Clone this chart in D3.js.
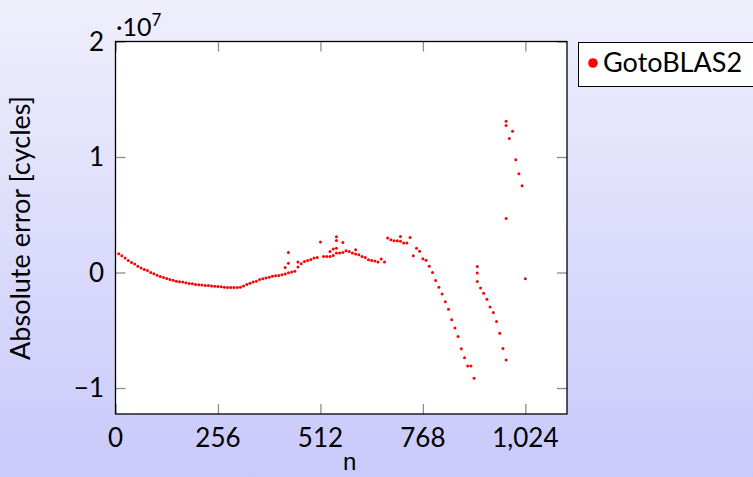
<!DOCTYPE html>
<html>
<head>
<meta charset="utf-8">
<script src="https://cdn.jsdelivr.net/npm/d3@7"></script>
<style>
  html, body { margin: 0; padding: 0; }
  svg { display: block; }
</style>
</head>
<body>
<svg id="chart" width="753" height="477"></svg>
<script>
// matrix size n
var sizes = [
  8, 16, 24, 32, 40, 48, 56, 64, 72, 80, 88, 96, 104, 112, 120, 128,
  136, 144, 152, 160, 168, 176, 184, 192, 200, 208, 216, 224, 232, 240, 248, 256,
  264, 272, 280, 288, 296, 304, 312, 320, 328, 336, 344, 352, 360, 368, 376, 384,
  392, 400, 408, 416, 424, 424, 432, 432, 432, 440, 448, 456, 456, 464, 472, 480,
  488, 496, 504, 512, 520, 528, 536, 536, 544, 544, 552, 552, 552, 552, 560, 568,
  568, 576, 584, 592, 600, 600, 608, 616, 624, 632, 640, 648, 656, 664, 672, 680,
  688, 696, 704, 712, 712, 720, 728, 736, 744, 752, 760, 768, 776, 784, 792, 800,
  808, 816, 824, 832, 840, 848, 856, 864, 872, 880, 888, 896, 904, 904, 904, 912,
  920, 928, 936, 944, 952, 960, 968, 976, 976, 976, 976, 984, 992, 1000, 1008, 1016,
  1024
];

// absolute error, in units of 10^7 cycles
var errors = [
  0.162, 0.145, 0.125, 0.104, 0.087, 0.073, 0.055, 0.038, 0.026, 0.017, 0.0, -0.011, -0.023, -0.035, -0.043, -0.052,
  -0.061, -0.066, -0.075, -0.081, -0.083, -0.089, -0.095, -0.098, -0.104, -0.107, -0.109, -0.113, -0.113, -0.116, -0.119, -0.121,
  -0.124, -0.127, -0.13, -0.13, -0.13, -0.13, -0.127, -0.116, -0.104, -0.093, -0.083, -0.075, -0.061, -0.055, -0.047, -0.04,
  -0.033, -0.027, -0.025, -0.02, -0.012, 0.043, -0.003, 0.081, 0.173, 0.004, 0.01, 0.047, 0.09, 0.075, 0.095, 0.104,
  0.113, 0.125, 0.13, 0.264, 0.139, 0.139, 0.139, 0.182, 0.147, 0.203, 0.168, 0.21, 0.278, 0.31, 0.168, 0.173,
  0.26, 0.188, 0.182, 0.168, 0.197, 0.16, 0.153, 0.139, 0.13, 0.11, 0.104, 0.1, 0.09, 0.116, 0.09, 0.298,
  0.284, 0.275, 0.275, 0.27, 0.312, 0.255, 0.255, 0.304, 0.145, 0.21, 0.185, 0.12, 0.107, 0.055, 0.0, -0.07,
  -0.127, -0.185, -0.254, -0.318, -0.41, -0.48, -0.555, -0.66, -0.737, -0.81, -0.81, -0.916, 0.052, -0.005, -0.078, -0.135,
  -0.179, -0.231, -0.298, -0.347, -0.425, -0.526, -0.658, -0.757, 0.468, 1.272, 1.31, 1.16, 1.223, 0.977, 0.856, 0.752,
  -0.055
];

var xTicks = [0, 256, 512, 768, 1024];
var yTicks = [-1, 0, 1, 2];
var seriesName = 'GotoBLAS2';

var width = 753, height = 477;
var plot = {left: 115.5, right: 567, top: 41.5, bottom: 414};
var tickLen = 10;
var labelFont = 'Lato, "Open Sans", sans-serif';

var svg = d3.select('#chart');

// page background
var grad = svg.append('defs').append('linearGradient')
  .attr('id', 'bg')
  .attr('x1', 0).attr('y1', 0).attr('x2', 0).attr('y2', 1);
grad.append('stop').attr('offset', '0%').attr('stop-color', '#efeffc');
grad.append('stop').attr('offset', '100%').attr('stop-color', '#c9c9fb');
svg.append('rect')
  .attr('width', width).attr('height', height)
  .attr('fill', 'url(#bg)');

var x = d3.scaleLinear().domain([0, 1128]).range([plot.left, plot.right]);
var y = d3.scaleLinear().domain([-1.225, 2]).range([plot.bottom, plot.top]);

svg.append('rect')
  .attr('x', plot.left).attr('y', plot.top)
  .attr('width', plot.right - plot.left)
  .attr('height', plot.bottom - plot.top)
  .attr('fill', '#fff');

// inward ticks on all four sides
function styleAxis(g) {
  g.select('.domain').remove();
  g.selectAll('.tick line').attr('stroke', '#8c8c8c').attr('stroke-width', 1.3);
  g.selectAll('text').remove();
}

svg.append('g')
  .attr('transform', 'translate(0,' + plot.bottom + ')')
  .call(d3.axisBottom(x).tickValues(xTicks).tickSizeInner(-tickLen).tickSizeOuter(0))
  .call(styleAxis);
svg.append('g')
  .attr('transform', 'translate(0,' + plot.top + ')')
  .call(d3.axisTop(x).tickValues(xTicks).tickSizeInner(-tickLen).tickSizeOuter(0))
  .call(styleAxis);
svg.append('g')
  .attr('transform', 'translate(' + plot.left + ',0)')
  .call(d3.axisLeft(y).tickValues(yTicks).tickSizeInner(-tickLen).tickSizeOuter(0))
  .call(styleAxis);
svg.append('g')
  .attr('transform', 'translate(' + plot.right + ',0)')
  .call(d3.axisRight(y).tickValues(yTicks).tickSizeInner(-tickLen).tickSizeOuter(0))
  .call(styleAxis);

// tick labels
var fmtX = d3.format(',');
svg.append('g').selectAll('text')
  .data(xTicks)
  .join('text')
  .attr('x', function(d) { return x(d); })
  .attr('y', 447)
  .attr('text-anchor', 'middle')
  .attr('font-family', labelFont)
  .attr('font-size', 26)
  .attr('fill', '#000')
  .text(fmtX);

svg.append('g').selectAll('text')
  .data(yTicks)
  .join('text')
  .attr('x', 104)
  .attr('y', function(d) { return y(d); })
  .attr('dy', '0.36em')
  .attr('text-anchor', 'end')
  .attr('font-family', labelFont)
  .attr('font-size', 26)
  .attr('fill', '#000')
  .text(function(d) { return d < 0 ? '\u2212' + Math.abs(d) : d; });

// scale note
var note = svg.append('text')
  .attr('x', 116)
  .attr('y', 36)
  .attr('font-family', labelFont)
  .attr('font-size', 25)
  .attr('fill', '#000');
note.append('tspan').text('\u00b710');
note.append('tspan').attr('dy', -10).attr('font-size', 17).text('7');

// points
svg.append('g')
  .selectAll('circle')
  .data(d3.range(sizes.length))
  .join('circle')
  .attr('cx', function(i) { return x(sizes[i]); })
  .attr('cy', function(i) { return y(errors[i]); })
  .attr('r', 1.5)
  .attr('fill', '#ff0000');

// frame
svg.append('rect')
  .attr('x', plot.left).attr('y', plot.top)
  .attr('width', plot.right - plot.left)
  .attr('height', plot.bottom - plot.top)
  .attr('fill', 'none')
  .attr('stroke', '#000')
  .attr('stroke-width', 1.3);

// axis titles
svg.append('text')
  .attr('transform', 'translate(30,228) rotate(-90)')
  .attr('text-anchor', 'middle')
  .attr('font-family', labelFont)
  .attr('font-size', 27)
  .attr('fill', '#000')
  .text('Absolute error [cycles]');

svg.append('text')
  .attr('x', x(585))
  .attr('y', 470)
  .attr('text-anchor', 'middle')
  .attr('font-family', '"Liberation Mono", "DejaVu Sans Mono", monospace')
  .attr('font-size', 24)
  .attr('fill', '#000')
  .text('n');

// legend
var legend = svg.append('g');
legend.append('rect')
  .attr('x', 578.5).attr('y', 42.5)
  .attr('width', 190).attr('height', 44)
  .attr('fill', '#fff')
  .attr('stroke', '#000')
  .attr('stroke-width', 1);
legend.append('circle')
  .attr('cx', 593).attr('cy', 63)
  .attr('r', 4.8)
  .attr('fill', '#ff0000');
legend.append('text')
  .attr('x', 603).attr('y', 72)
  .attr('font-family', labelFont)
  .attr('font-size', 27)
  .attr('fill', '#000')
  .text(seriesName);
</script>
</body>
</html>
